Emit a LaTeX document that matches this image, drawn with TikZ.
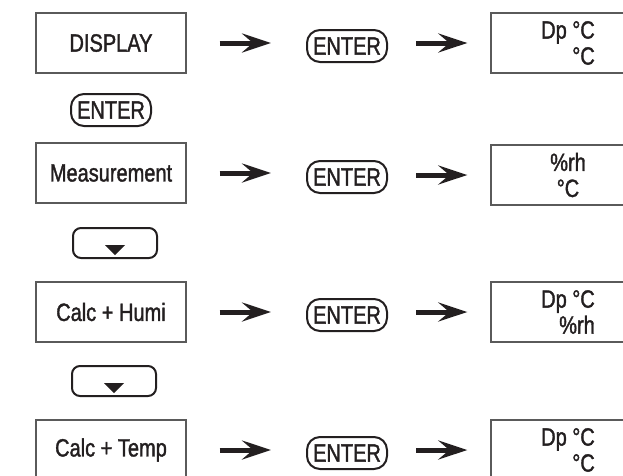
\documentclass[tikz,border=0pt]{standalone}
\usepackage{fontspec}
\setmainfont{Liberation Sans}[FakeStretch=0.8,BoldFont=Liberation Sans,BoldFeatures={FakeBold=1.4}]
\usetikzlibrary{arrows.meta}
\definecolor{ink}{HTML}{231F20}
\definecolor{boxline}{HTML}{5A5A5A}
\tikzset{
  menu/.style={draw=boxline,line width=1.3pt,minimum width=150pt,minimum height=60pt,inner sep=0pt,text=ink},
  lcd/.style={draw=boxline,line width=1.3pt,minimum width=154pt,minimum height=60pt,inner sep=0pt,text=ink},
  enterkey/.style={draw=ink,line width=2pt,rounded corners=13pt,minimum width=80pt,minimum height=32pt,inner sep=1pt,text=ink},
  downkey/.style={draw=ink,line width=2pt,rounded corners=8pt,minimum width=84pt,minimum height=30pt,inner sep=0pt},
  go/.style={draw=ink,line width=5pt,-{Stealth[length=29pt,width=19pt,inset=11pt]}}
}
\begin{document}
\begin{tikzpicture}[x=1pt,y=-1pt,font=\fontsize{25}{26}\selectfont\bfseries]
\clip (0,0) rectangle (623,475);
\pgfmathsetmacro{\xa}{111}
\pgfmathsetmacro{\xb}{347}
\pgfmathsetmacro{\xc}{568}
%menu
\node[menu] (m1) at (\xa,43) {DISPLAY};
\node[menu] (m2) at (\xa,173) {Measurement};
\node[menu] (m3) at (\xa,312) {Calc + Humi};
\node[menu] (m4) at (\xa,450) {Calc + Temp};
%keys between
\node[enterkey] (k1) at (\xa,110) {ENTER};
\node[downkey] (k2) at (115,243) {};
\node[downkey] (k3) at (114,381) {};
\fill[ink] (k2.center)++(-10,2)--++(20,0)--++(-10,10)--cycle;
\fill[ink] (k3.center)++(-10,2)--++(20,0)--++(-10,10)--cycle;
%enter
\node[enterkey] (e1) at (\xb,46) {ENTER};
\node[enterkey] (e2) at (\xb,177) {ENTER};
\node[enterkey] (e3) at (\xb,315) {ENTER};
\node[enterkey] (e4) at (\xb,453) {ENTER};
%display
\node[lcd,align=right] (d1) at (\xc,43) {Dp °C\\°C};
\node[lcd,align=center] (d2) at (\xc,175) {\%rh\\°C};
\node[lcd,align=right] (d3) at (\xc,312) {Dp °C\\\%rh};
\node[lcd,align=right] (d4) at (\xc,450) {Dp °C\\°C};
%arrows
\draw[go,shorten <=33pt,shorten >=35pt] (m1.east)--(m1 -| e1.west);
\draw[go,shorten <=28pt,shorten >=23pt] (e1.east |- d1)--(d1.west);
\draw[go,shorten <=33pt,shorten >=35pt] (m2.east)--(m2 -| e2.west);
\draw[go,shorten <=28pt,shorten >=23pt] (e2.east |- d2)--(d2.west);
\draw[go,shorten <=33pt,shorten >=35pt] (m3.east)--(m3 -| e3.west);
\draw[go,shorten <=28pt,shorten >=23pt] (e3.east |- d3)--(d3.west);
\draw[go,shorten <=33pt,shorten >=35pt] (m4.east)--(m4 -| e4.west);
\draw[go,shorten <=28pt,shorten >=23pt] (e4.east |- d4)--(d4.west);
\end{tikzpicture}
\end{document}
